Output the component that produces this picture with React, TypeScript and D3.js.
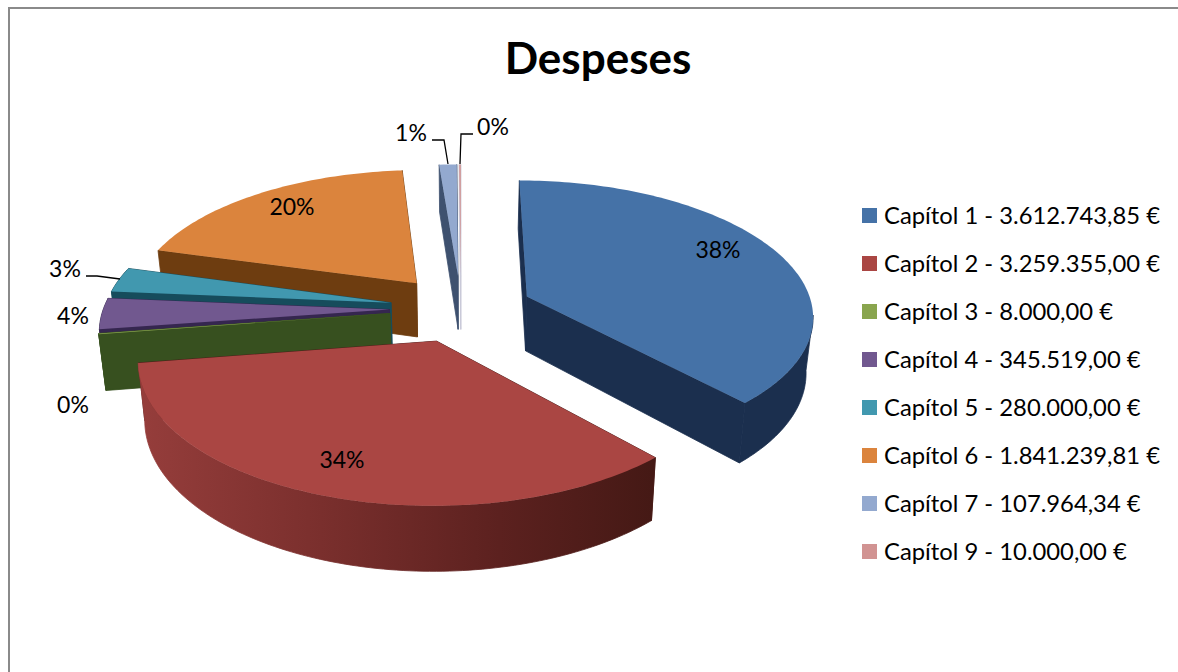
import * as d3 from 'd3'

const categories = ['Capítol 1', 'Capítol 2', 'Capítol 3', 'Capítol 4', 'Capítol 5', 'Capítol 6', 'Capítol 7', 'Capítol 9']
const amounts = [3612743.85, 3259355.0, 8000.0, 345519.0, 280000.0, 1841239.81, 107964.34, 10000.0]
const percentLabels = ['38%', '34%', '0%', '4%', '3%', '20%', '1%', '0%']
const topColors = ['#4572a7', '#aa4643', '#89a54e', '#71588f', '#4198af', '#db843d', '#93a9cf', '#d19392']
const wallColors = ['#1b2f4e', '#6a2a28', '#37501f', '#35264f', '#164c5c', '#6e3d10', '#3e516f', '#c9c9d8']

// Painter's order, back to front
const drawOrder = [5, 6, 7, 4, 3, 2, 0, 1]

const WIDTH = 1178
const HEIGHT = 672
const FONT = 'Lato, Carlito, sans-serif'

// Projection of the tilted pie
const cx = 461
const cy = 308.5
const radiusX = 286
const radiusY = 134
const perspective = 0.13
const explode = 0.25
const depth = 55
const bottomShrink = 0.98

type Pt = [number, number]

const pctPositions: Pt[] = [[718, 258], [342, 468], [292, 215], [73, 413], [73, 324], [65, 277], [411, 141], [493, 135]]
const percentOrder = [0, 1, 5, 2, 3, 4, 6, 7]

const leaders: Pt[][] = [
  [[86, 276], [97, 276], [120, 279]],
  [[432, 140], [444, 140], [448, 164]],
  [[473, 134], [461, 134], [460, 164]],
]

const pieGen = d3.pie<number>().sort(null).value((d) => d)
const arcs = pieGen(amounts)

function project(theta: number, r: number, mid: number, bottom = false): Pt {
  const wx = r * Math.sin(theta) + explode * Math.sin(mid)
  const wy = -r * Math.cos(theta) - explode * Math.cos(mid)
  const s = 1 / (1 - wy * perspective)
  const x = wx * radiusX * s * (bottom ? bottomShrink : 1)
  const y = wy * radiusY * s + (bottom ? depth * s : 0)
  return [cx + x, cy + y]
}

function arcPoints(a0: number, a1: number, mid: number, bottom = false): Pt[] {
  const steps = Math.max(2, Math.ceil((a1 - a0) / 0.02))
  return d3.range(steps + 1).map((i) => project(a0 + ((a1 - a0) * i) / steps, 1, mid, bottom))
}

const polygon = d3.line<Pt>().curve(d3.curveLinearClosed)

// Only the part of the rim turned to the viewer is drawn
const rimFrom = (98 * Math.PI) / 180
const rimTo = (285 * Math.PI) / 180

export default function App() {
  return (
    <svg
      width={WIDTH}
      height={HEIGHT}
      style={{ position: 'fixed', left: 0, top: 0, display: 'block', background: '#fff' }}
    >
      <defs>
        <linearGradient id="redWall" gradientUnits="userSpaceOnUse" x1={143} y1={0} x2={652} y2={0}>
          <stop offset="0" stopColor="#953d3b" />
          <stop offset="0.35" stopColor="#7a2f2d" />
          <stop offset="0.7" stopColor="#5c211f" />
          <stop offset="1" stopColor="#451915" />
        </linearGradient>
      </defs>

      <path d={`M9,672V8H${WIDTH}`} fill="none" stroke="#8a8a8a" strokeWidth={2} />

      <text x={598} y={74} textAnchor="middle" fontFamily={FONT} fontWeight={700} fontSize={44} fill="#000">
        Despeses
      </text>

      {drawOrder.map((i) => {
        const d = arcs[i]
        const mid = (d.startAngle + d.endAngle) / 2
        const wall = i === 1 ? 'url(#redWall)' : wallColors[i]
        const apexTop = project(0, 0, mid)
        const apexBottom = project(0, 0, mid, true)
        const rimA = Math.max(d.startAngle, rimFrom)
        const rimB = Math.min(d.endAngle, rimTo)
        const cutFaces = [d.startAngle, d.endAngle].map((a) => [
          apexTop,
          project(a, 1, mid),
          project(a, 1, mid, true),
          apexBottom,
        ])
        return (
          <g key={categories[i]}>
            {cutFaces.map((pts, j) => (
              <path
                key={j}
                d={polygon(pts as Pt[]) ?? ''}
                fill={i === 1 ? '#4a1b18' : wallColors[i]}
                stroke={i === 1 ? '#4a1b18' : wallColors[i]}
                strokeWidth={0.8}
              />
            ))}
            {rimA < rimB && (
              <path
                d={polygon([...arcPoints(rimA, rimB, mid), ...arcPoints(rimA, rimB, mid, true).reverse()]) ?? ''}
                fill={wall}
                stroke={wall}
                strokeWidth={0.8}
              />
            )}
            <path d={polygon([apexTop, ...arcPoints(d.startAngle, d.endAngle, mid)]) ?? ''} fill={topColors[i]} />
          </g>
        )
      })}

      {leaders.map((pts, i) => (
        <path key={i} d={d3.line()(pts) ?? ''} fill="none" stroke="#000" strokeWidth={1.3} />
      ))}

      {percentOrder.map((idx, i) => (
        <text
          key={i}
          x={pctPositions[i][0]}
          y={pctPositions[i][1]}
          textAnchor="middle"
          fontFamily={FONT}
          fontSize={23}
          fill="#000"
        >
          {percentLabels[idx]}
        </text>
      ))}

      {categories.map((c, i) => (
        <g key={c} transform={`translate(862,${208 + i * 48})`}>
          <rect width={15} height={15} fill={topColors[i]} />
          <text x={22} y={15.5} fontFamily={FONT} fontSize={23.8} fill="#000">
            {`${c} - ${d3.format(',.2f')(amounts[i]).replace(/,/g, '#').replace('.', ',').replace(/#/g, '.')} €`}
          </text>
        </g>
      ))}
    </svg>
  )
}
